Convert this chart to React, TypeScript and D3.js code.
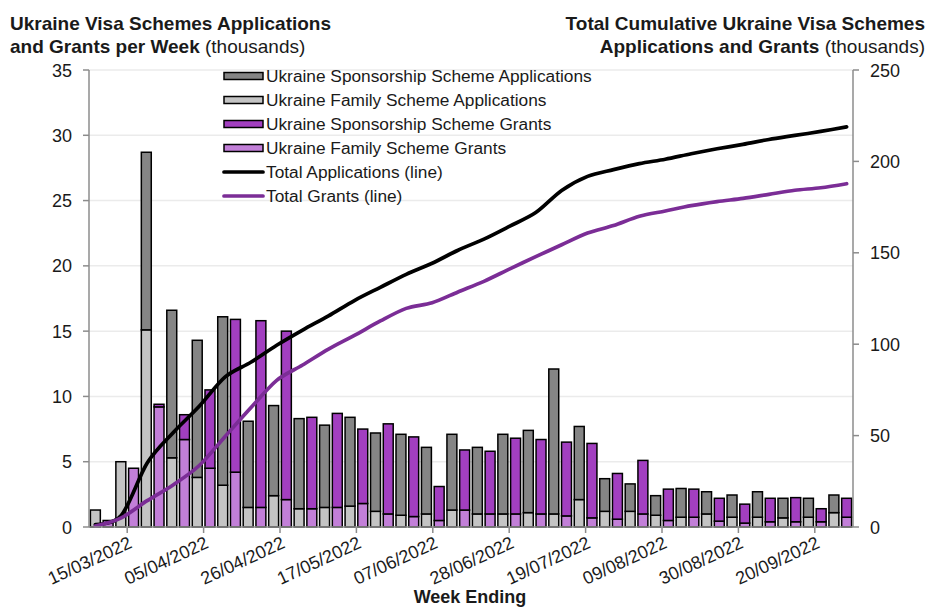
import React from "react";
import * as d3 from "d3";

const weeks = [
  "08/03/2022", "15/03/2022", "22/03/2022", "29/03/2022", "05/04/2022", "12/04/2022",
  "19/04/2022", "26/04/2022", "03/05/2022", "10/05/2022", "17/05/2022", "24/05/2022",
  "31/05/2022", "07/06/2022", "14/06/2022", "21/06/2022", "28/06/2022", "05/07/2022",
  "12/07/2022", "19/07/2022", "26/07/2022", "02/08/2022", "09/08/2022", "16/08/2022",
  "23/08/2022", "30/08/2022", "06/09/2022", "13/09/2022", "20/09/2022", "27/09/2022",
];
const tickLabels = [
  "15/03/2022", "05/04/2022", "26/04/2022", "17/05/2022", "07/06/2022",
  "28/06/2022", "19/07/2022", "09/08/2022", "30/08/2022", "20/09/2022",
];
// thousands per week
const sponsorshipApps = [0, 0, 13.6, 11.3, 10.5, 12.9, 6.6, 6.9, 6.9, 6.3, 6.8, 6.0, 6.2, 5.1, 5.8, 5.1, 6.1, 6.3, 11.1, 5.6, 2.5, 2.1, 1.5, 2.2, 1.7, 1.7, 1.95, 1.5, 1.45, 1.35];
const familyApps = [1.3, 5.0, 15.1, 5.3, 3.8, 3.2, 1.5, 2.4, 1.4, 1.5, 1.6, 1.2, 0.9, 1.0, 1.3, 1.0, 1.0, 1.1, 1.0, 2.1, 1.2, 1.2, 0.9, 0.75, 1.0, 0.75, 0.75, 0.7, 0.75, 1.1];
const sponsorshipGrants = [0, 0, 0.2, 1.9, 6.0, 11.7, 14.3, 12.9, 7.0, 7.2, 5.7, 6.9, 6.1, 2.6, 4.6, 4.8, 5.8, 5.7, 5.65, 5.7, 3.5, 4.1, 2.4, 2.15, 1.75, 1.45, 1.8, 1.85, 1.0, 1.45];
const familyGrants = [0.5, 4.5, 9.2, 6.7, 4.5, 4.2, 1.5, 2.1, 1.4, 1.5, 1.8, 1.0, 0.8, 0.5, 1.3, 1.0, 1.0, 1.0, 0.85, 0.7, 0.6, 1.0, 0.5, 0.75, 0.45, 0.3, 0.4, 0.4, 0.4, 0.75];
// cumulative totals (thousands)
const totalApplications = [1.3, 6.3, 35.0, 51.6, 65.9, 82.0, 90.1, 99.4, 107.7, 115.5, 123.9, 131.1, 138.2, 144.3, 151.4, 157.5, 164.6, 172.0, 184.1, 191.8, 195.5, 198.8, 201.2, 204.2, 206.9, 209.3, 212.0, 214.2, 216.4, 218.9];
const totalGrants = [0.5, 5.0, 14.4, 23.0, 33.5, 49.4, 65.2, 80.2, 88.6, 97.3, 104.8, 112.7, 119.6, 122.7, 128.6, 134.4, 141.2, 147.9, 154.4, 160.8, 164.9, 170.0, 172.9, 175.8, 178.0, 179.8, 182.0, 184.2, 185.6, 187.8];

const leftTicks = [0, 5, 10, 15, 20, 25, 30, 35];
const rightTicks = [0, 50, 100, 150, 200, 250];

const C = {
  sponApp: "#858585",
  famApp: "#c4c4c4",
  sponGrant: "#a23fc0",
  famGrant: "#c27fd8",
  totApp: "#000000",
  totGrant: "#7b2d96",
  grid: "#ebebeb",
  axis: "#8c8c8c",
  text: "#1a1a1a",
};

const FONT = "'Liberation Sans', Arial, sans-serif";

export default function App() {
  const W = 929, H = 607;
  const L = 89, R = 853, T = 70, B = 527;

  const x = d3.scaleBand<string>().domain(weeks).range([L, R]).paddingInner(0).paddingOuter(0);
  const slot = x.bandwidth() / 2;
  const barW = slot * 0.78;
  const xl = d3.scalePoint<string>().domain(weeks).range([L + slot / 2, R - slot / 2]);
  const yL = d3.scaleLinear().domain([0, 35]).range([B, T]);
  const yR = d3.scaleLinear().domain([0, 250]).range([B, T]);

  const rows = weeks.map((w, i) => ({
    week: w,
    famApp: familyApps[i],
    sponApp: sponsorshipApps[i],
    famGrant: familyGrants[i],
    sponGrant: sponsorshipGrants[i],
  }));
  const appStack = d3.stack<any>().keys(["famApp", "sponApp"])(rows);
  const grantStack = d3.stack<any>().keys(["famGrant", "sponGrant"])(rows);

  const line = d3
    .line<number>()
    .x((_, i) => xl(weeks[i]) as number)
    .y((d) => yR(d))
    .curve(d3.curveCardinal.tension(0.1));

  const legendItems = [
    { label: "Ukraine Sponsorship Scheme Applications", color: C.sponApp, type: "rect" },
    { label: "Ukraine Family Scheme Applications", color: C.famApp, type: "rect" },
    { label: "Ukraine Sponsorship Scheme Grants", color: C.sponGrant, type: "rect" },
    { label: "Ukraine Family Scheme Grants", color: C.famGrant, type: "rect" },
    { label: "Total Applications (line)", color: C.totApp, type: "line" },
    { label: "Total Grants (line)", color: C.totGrant, type: "line" },
  ];

  const stackColors: Record<string, string> = {
    famApp: C.famApp,
    sponApp: C.sponApp,
    famGrant: C.famGrant,
    sponGrant: C.sponGrant,
  };

  return (
    <svg
      width={W}
      height={H}
      style={{ position: "absolute", left: 0, top: 0, background: "#fff" }}
      fontFamily={FONT}
    >
      <rect x={0} y={0} width={W} height={H} fill="#fff" />
      {/* gridlines */}
      {leftTicks.slice(1).map((t) => (
        <line key={t} x1={L} x2={R} y1={yL(t)} y2={yL(t)} stroke={C.grid} strokeWidth={1.5} />
      ))}

      {/* application bars */}
      {appStack.map((s) => (
        <g key={s.key} fill={stackColors[s.key]}>
          {s.map((d, i) =>
            d[1] - d[0] > 0 ? (
              <rect
                key={i}
                x={(x(weeks[i]) as number) + (slot - barW) / 2}
                y={yL(d[1])}
                width={barW}
                height={yL(d[0]) - yL(d[1])}
                stroke="#000"
                strokeWidth={1.5}
              />
            ) : null
          )}
        </g>
      ))}
      {/* grant bars */}
      {grantStack.map((s) => (
        <g key={s.key} fill={stackColors[s.key]}>
          {s.map((d, i) =>
            d[1] - d[0] > 0 ? (
              <rect
                key={i}
                x={(x(weeks[i]) as number) + slot + (slot - barW) / 2}
                y={yL(d[1])}
                width={barW}
                height={yL(d[0]) - yL(d[1])}
                stroke="#000"
                strokeWidth={1.5}
              />
            ) : null
          )}
        </g>
      ))}

      {/* cumulative lines */}
      <path d={line(totalApplications) || ""} fill="none" stroke={C.totApp} strokeWidth={3.7} strokeLinecap="round" strokeLinejoin="round" />
      <path d={line(totalGrants) || ""} fill="none" stroke={C.totGrant} strokeWidth={3.7} strokeLinecap="round" strokeLinejoin="round" />

      {/* left axis */}
      <line x1={L} x2={L} y1={T} y2={B} stroke={C.axis} strokeWidth={1.5} />
      {leftTicks.map((t) => (
        <g key={t}>
          <line x1={L - 6} x2={L} y1={yL(t)} y2={yL(t)} stroke={C.axis} strokeWidth={1.5} />
          <text x={72} y={yL(t) + 6.5} textAnchor="end" fontSize={18} fill={C.text}>
            {t}
          </text>
        </g>
      ))}
      {/* right axis */}
      <line x1={R} x2={R} y1={T} y2={B} stroke={C.axis} strokeWidth={1.5} />
      {rightTicks.map((t) => (
        <g key={t}>
          <line x1={R} x2={R + 6} y1={yR(t)} y2={yR(t)} stroke={C.axis} strokeWidth={1.5} />
          <text x={870} y={yR(t) + 6.5} textAnchor="start" fontSize={18} fill={C.text}>
            {t}
          </text>
        </g>
      ))}
      {/* bottom axis */}
      <line x1={L} x2={R} y1={B} y2={B} stroke={C.axis} strokeWidth={1.5} />
      {tickLabels.map((lab) => {
        const cx = (x(lab) as number) + x.bandwidth() / 2;
        return (
          <g key={lab}>
            <line x1={cx} x2={cx} y1={B} y2={B + 6} stroke={C.axis} strokeWidth={1.5} />
            <text
              transform={`translate(${cx + 6},${B + 20}) rotate(-25)`}
              textAnchor="end"
              fontSize={18}
              fill={C.text}
            >
              {lab}
            </text>
          </g>
        );
      })}
      <text x={470} y={603} textAnchor="middle" fontSize={18} fontWeight="bold" fill={C.text}>
        Week Ending
      </text>

      {/* legend */}
      {legendItems.map((it, i) => {
        const cy = 76 + i * 24;
        return (
          <g key={it.label}>
            {it.type === "rect" ? (
              <rect x={224} y={cy - 3.5} width={39} height={7} fill={it.color} stroke="#000" strokeWidth={1.5} />
            ) : (
              <line x1={224} x2={263} y1={cy} y2={cy} stroke={it.color} strokeWidth={3.7} strokeLinecap="round" />
            )}
            <text x={266} y={cy + 6} fontSize={17.3} fill={C.text}>
              {it.label}
            </text>
          </g>
        );
      })}

      {/* titles */}
      <text x={10} y={30} fontSize={19} fill={C.text}>
        <tspan fontWeight="bold">Ukraine Visa Schemes Applications</tspan>
      </text>
      <text x={10} y={53} fontSize={19} fill={C.text}>
        <tspan fontWeight="bold">and Grants per Week</tspan>
        <tspan> (thousands)</tspan>
      </text>
      <text x={925} y={30} fontSize={19} fill={C.text} textAnchor="end">
        <tspan fontWeight="bold">Total Cumulative Ukraine Visa Schemes</tspan>
      </text>
      <text x={925} y={53} fontSize={19} fill={C.text} textAnchor="end">
        <tspan fontWeight="bold">Applications and Grants</tspan>
        <tspan> (thousands)</tspan>
      </text>
    </svg>
  );
}
